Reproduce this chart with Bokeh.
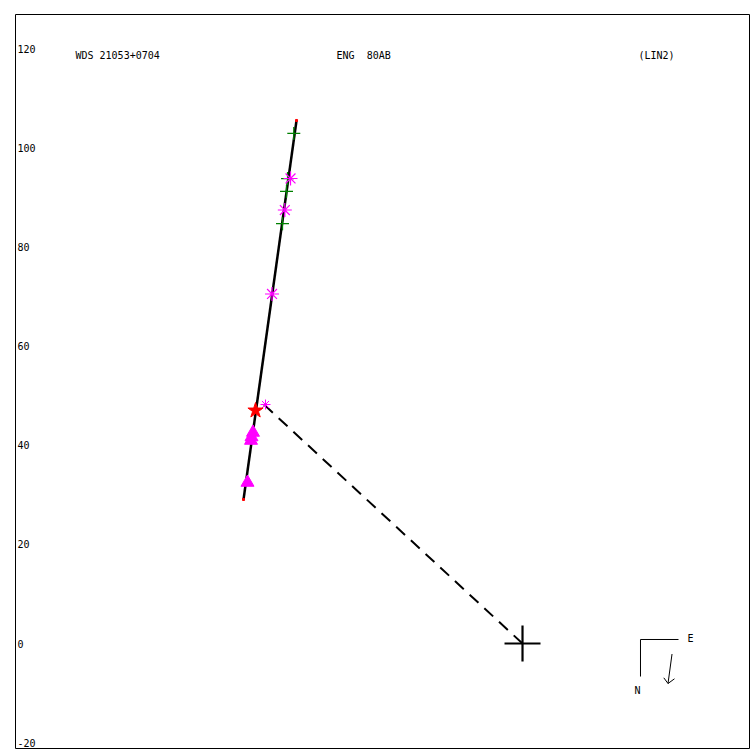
from bokeh.plotting import figure
from bokeh.models import Range1d
from bokeh.core.properties import value
from bokeh.embed import file_html
from bokeh.resources import INLINE

# --- data (arcsec-like units as plotted) ---
fit_x = [-56.28, -45.59]
fit_y = [29.05, 105.51]

cross_obs_x = [-46.14, -47.40, -47.61, -48.42]
cross_obs_y = [102.9, 93.8, 91.2, 84.7]

ast_x = [-46.80, -47.95, -50.53]
ast_y = [93.81, 87.45, 70.51]
ast_small_x = [-51.85]
ast_small_y = [48.21]

star_x = [-53.86]
star_y = [47.00]

tri_x = [-54.37, -54.67, -54.77, -55.48]
tri_y = [42.57, 41.66, 40.95, 32.48]

dash_x = [0.0, -53.26]
dash_y = [0.0, 49.22]

ytick_vals = [120, 100, 80, 60, 40, 20, 0, -20]
ytick_labels = ["120", "100", "80", "60", "40", "20", "0", "-20"]

title_left = "WDS 21053+0704"
title_mid = "ENG\u00a0\u00a080AB"
title_right = "(LIN2)"

XMIN, XMAX = -102.28, 45.79
YMIN, YMAX = -21.18, 126.89

p = figure(width=750, height=750, output_backend="svg", toolbar_location=None,
           x_range=Range1d(XMIN, XMAX), y_range=Range1d(YMIN, YMAX),
           min_border_left=15, min_border_right=1, min_border_top=14, min_border_bottom=2)
p.xaxis.visible = False
p.yaxis.visible = False
p.xgrid.visible = False
p.ygrid.visible = False
p.outline_line_color = "black"
p.outline_line_width = 1
p.background_fill_color = "white"
p.border_fill_color = "white"

FONT = value("DejaVu Sans Mono")

# y tick labels inside frame
p.text(x=[XMIN] * len(ytick_vals), y=ytick_vals, text=ytick_labels, x_offset=2,
       text_font=FONT, text_font_size="10px", text_color="black",
       text_baseline="middle", text_align="left")

# titles
p.text(x=[-90.18], y=[118.6], text=[title_left], text_font=FONT, text_font_size="10px",
       text_baseline="middle", text_align="left", text_color="black")
p.text(x=[-37.52], y=[118.6], text=[title_mid], text_font=FONT, text_font_size="10px",
       text_baseline="middle", text_align="left", text_color="black")
p.text(x=[23.4], y=[118.6], text=[title_right], text_font=FONT, text_font_size="10px",
       text_baseline="middle", text_align="left", text_color="black")

# dashed line from primary
p.line(dash_x, dash_y, line_color="black", line_width=2, line_dash="12 8")

# fitted linear path
p.line(fit_x, fit_y, line_color="black", line_width=2.5)
p.scatter(fit_x, fit_y, marker="square", size=2, fill_color="red", line_color="red")

# observations
p.scatter(cross_obs_x, cross_obs_y, marker="cross", size=13, line_color="green", line_width=1.3)
p.scatter(ast_x, ast_y, marker="asterisk", size=14, line_color="#ff00ff", line_width=1.2)
p.scatter(ast_small_x, ast_small_y, marker="asterisk", size=10, line_color="#ff00ff", line_width=1)
p.scatter(tri_x, tri_y, marker="triangle", size=13, fill_color="#ff00ff", line_color="#ff00ff")
p.scatter(star_x, star_y, marker="star", size=16, fill_color="red", line_color="red")

# primary
p.scatter([0], [0], marker="cross", size=36, line_color="black", line_width=2.2)

# compass
p.line([31.47, 23.80, 23.80], [0.81, 0.81, -6.66], line_color="black", line_width=1)
p.line([30.16, 29.35], [-2.12, -8.07], line_color="black", line_width=1)
p.line([28.5, 29.35, 30.66], [-6.92, -8.07, -7.12], line_color="black", line_width=1)
p.text(x=[33.3], y=[1.0], text=["E"], text_font=FONT, text_font_size="10px",
       text_baseline="middle", text_align="left", text_color="black")
p.text(x=[23.2], y=[-9.48], text=["N"], text_font=FONT, text_font_size="10px",
       text_baseline="middle", text_align="center", text_color="black")

open("out.html", "w").write(file_html(p, INLINE))
